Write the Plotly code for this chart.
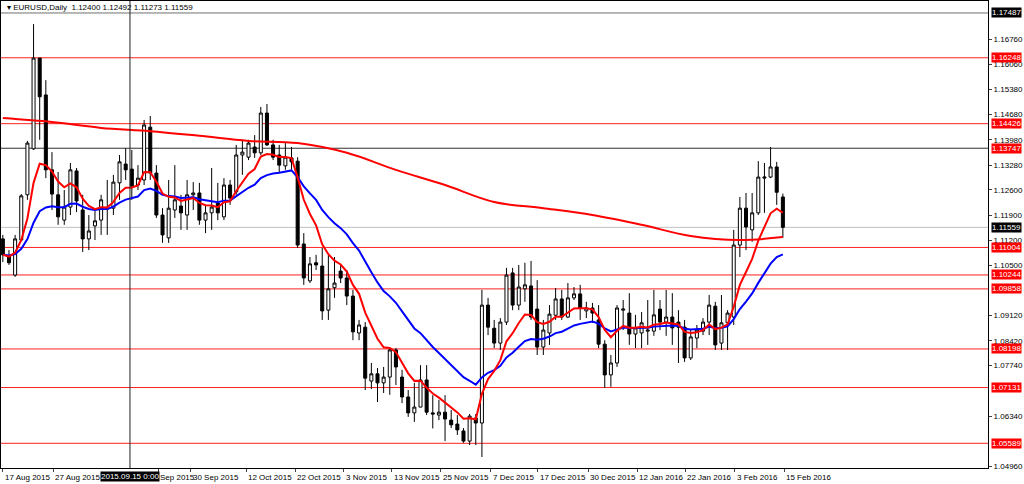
import plotly.graph_objects as go

opens = [1.1124,1.1077,1.1024,1.1121,1.1246,1.1373,1.1624,1.1522,1.1315,1.1246,1.1176,1.1212,1.1312,1.1204,1.1124,1.1160,1.1176,1.1209,1.1209,1.1279,
1.1331,1.1317,1.1273,1.1287,1.1433,1.1306,1.1190,1.1127,1.1204,1.1215,1.1190,1.1246,1.1251,1.1176,1.1196,1.1223,1.1185,1.1273,1.1254,1.1356,
1.1350,1.1378,1.1362,1.1472,1.1384,1.1356,1.1326,1.1348,1.1339,1.1110,1.1008,1.1058,1.1049,1.0927,1.0989,1.1035,1.1016,1.0966,1.0864,1.0880,
1.0731,1.0751,1.0726,1.0742,1.0817,1.0742,1.0687,1.0643,1.0659,1.0734,1.0643,1.0637,1.0645,1.0623,1.0612,1.0593,1.0565,1.0629,1.0615,1.0941,
1.0877,1.0836,1.0894,1.1030,1.0941,1.0986,1.0994,1.0930,1.0825,1.0864,1.0913,1.0958,1.0908,1.0961,1.0972,1.0925,1.0933,1.0900,1.0833,1.0748,
1.0781,1.0927,1.0919,1.0861,1.0864,1.0869,1.0869,1.0930,1.0894,1.0908,1.0894,1.0880,1.0795,1.0850,1.0869,1.0894,1.0938,1.0836,1.0892,1.0908,
1.1107,1.1209,1.1149,1.1196,1.1292,1.1295,1.1323,1.12400]
highs = [1.1135,1.1093,1.1135,1.1248,1.1395,1.1718,1.1624,1.1563,1.1364,1.1309,1.1259,1.1334,1.1320,1.1246,1.1190,1.1204,1.1246,1.1287,1.1301,1.1356,
1.1375,1.1370,1.1328,1.1453,1.1464,1.1328,1.1209,1.1287,1.1328,1.1246,1.1287,1.1281,1.1279,1.1218,1.1320,1.1279,1.1292,1.1287,1.1384,1.1398,
1.1398,1.1411,1.1489,1.1497,1.1398,1.1384,1.1389,1.1378,1.1350,1.1140,1.1074,1.1080,1.1099,1.1080,1.1074,1.1052,1.1038,1.0983,1.0900,1.0894,
1.0781,1.0767,1.0770,1.0822,1.0822,1.0762,1.0706,1.0726,1.0775,1.0775,1.0692,1.0679,1.0692,1.0651,1.0637,1.0601,1.0640,1.0640,1.0983,1.0961,
1.0900,1.0905,1.1044,1.1044,1.1052,1.1058,1.1063,1.1010,1.0900,1.0941,1.0988,1.0983,1.1002,1.0991,1.0997,1.0950,1.0947,1.0941,1.0844,1.0803,
1.0941,1.0955,1.0974,1.0914,1.0922,1.0955,1.0983,1.0955,1.0983,1.0974,1.0927,1.0900,1.0872,1.0886,1.0905,1.0969,1.0950,1.0969,1.0927,1.1149,
1.1240,1.1251,1.1251,1.1339,1.1334,1.1378,1.1337,1.12492]
lows = [1.1060,1.1052,1.1019,1.1118,1.1232,1.1370,1.1398,1.1292,1.1204,1.1163,1.1163,1.1190,1.1198,1.1088,1.1093,1.1121,1.1135,1.1135,1.1190,1.1232,
1.1287,1.1232,1.1259,1.1273,1.1287,1.1182,1.1113,1.1113,1.1182,1.1149,1.1149,1.1204,1.1163,1.1140,1.1149,1.1176,1.1176,1.1218,1.1246,1.1301,
1.1342,1.1348,1.1356,1.1381,1.1342,1.1309,1.1315,1.1315,1.1099,1.0997,1.1002,1.1038,1.0900,1.0900,1.0961,1.1002,1.0941,1.0844,1.0844,1.0706,
1.0709,1.0673,1.0698,1.0693,1.0720,1.0670,1.0632,1.0618,1.0659,1.0637,1.0600,1.0623,1.0565,1.0601,1.0582,1.0560,1.0554,1.0554,1.0521,1.0858,
1.0822,1.0817,1.0886,1.0927,1.0927,1.0950,1.0900,1.0803,1.0803,1.0831,1.0900,1.0900,1.0905,1.0955,1.0900,1.0905,1.0892,1.0822,1.0712,1.0715,
1.0770,1.0872,1.0831,1.0822,1.0822,1.0831,1.0856,1.0872,1.0856,1.0831,1.0781,1.0784,1.0789,1.0822,1.0858,1.0858,1.0817,1.0817,1.0817,1.0886,
1.1074,1.1093,1.1116,1.1190,1.1196,1.1292,1.1218,1.11273]
closes = [1.1080,1.1058,1.1124,1.1243,1.1389,1.1624,1.1517,1.1315,1.1248,1.1185,1.1212,1.1315,1.1229,1.1124,1.1146,1.1174,1.1232,1.1207,1.1281,1.1337,
1.1315,1.1270,1.1292,1.1439,1.1306,1.1190,1.1135,1.1209,1.1232,1.1196,1.1246,1.1251,1.1176,1.1196,1.1212,1.1196,1.1273,1.1237,1.1356,1.1364,
1.1389,1.1362,1.1472,1.1384,1.1350,1.1328,1.1350,1.1337,1.1107,1.1016,1.1055,1.1052,1.0925,1.0986,1.1002,1.1016,1.0966,1.0867,1.0886,1.0739,
1.0751,1.0726,1.0742,1.0817,1.0770,1.0687,1.0643,1.0659,1.0734,1.0645,1.0640,1.0645,1.0626,1.0610,1.0596,1.0565,1.0634,1.0615,1.0941,1.0880,
1.0836,1.0894,1.1024,1.0941,1.0991,1.0997,1.0908,1.0825,1.0872,1.0916,1.0958,1.0908,1.0961,1.0972,1.0933,1.0933,1.0919,1.0833,1.0748,1.0781,
1.0933,1.0930,1.0861,1.0878,1.0892,1.0872,1.0914,1.0894,1.0908,1.0878,1.0880,1.0795,1.0853,1.0872,1.0894,1.0941,1.0831,1.0892,1.0919,1.1107,
1.1209,1.1157,1.1196,1.1295,1.1295,1.1323,1.1253,1.11559]

ma200_bars = [0,8,16,24,32,40,48,56,64,72,80,88,96,104,112,120,127]
ma200_vals = [1.1458,1.1447,1.1431,1.1422,1.1409,1.1395,1.1389,1.1362,1.1315,1.1273,1.1226,1.1209,1.1190,1.1163,1.1132,1.1121,1.1129]

levels = [1.16248,1.14426,1.13747,1.11004,1.10244,1.09858,1.08198,1.07131,1.05589]
crosshair_price = 1.13747
price_ticks = [1.16760,1.16060,1.15380,1.14680,1.13980,1.13280,1.12600,1.11900,1.11200,1.10500,1.09120,1.08420,1.07740,1.06340,1.04960]
date_pos = [0,8.2,25.3,30.6,39.6,47.6,55.5,63.3,71.3,79.4,87.1,95.3,103.3,111.1,119.2,127.2]
date_labels = ["17 Aug 2015","27 Aug 2015","Sep 2015","30 Sep 2015","12 Oct 2015","22 Oct 2015","3 Nov 2015","13 Nov 2015",
               "25 Nov 2015","7 Dec 2015","17 Dec 2015","30 Dec 2015","12 Jan 2016","22 Jan 2016","3 Feb 2016","15 Feb 2016"]
top_price = 1.17487
last_price = 1.11559
cross_bar = 20.7
cross_label = "2015.09.15 0:00"
header = "EURUSD,Daily  1.12400 1.12492 1.11273 1.11559"

def ema(vals, n):
    k = 2/(n+1); out = [vals[0]]
    for v in vals[1:]:
        out.append(out[-1] + k*(v-out[-1]))
    return out

x = list(range(len(closes)))
FONT = "Liberation Sans"
FS = 8
fig = go.Figure()
fig.add_trace(go.Candlestick(x=x, open=opens, high=highs, low=lows, close=closes,
    increasing=dict(line=dict(color="black", width=1), fillcolor="white"),
    decreasing=dict(line=dict(color="black", width=1), fillcolor="black"),
    whiskerwidth=0, showlegend=False, hoverinfo="skip"))
fig.add_trace(go.Scatter(x=x, y=ema(closes, 21), mode="lines", line=dict(color="#0000ff", width=2), hoverinfo="skip"))
fig.add_trace(go.Scatter(x=x, y=ema(closes, 8), mode="lines", line=dict(color="#ff0000", width=2), hoverinfo="skip"))
fig.add_trace(go.Scatter(x=ma200_bars, y=ma200_vals, mode="lines", line=dict(color="#ff0000", width=2, shape="spline"), hoverinfo="skip"))

shapes = []
shapes.append(dict(type="line", xref="paper", x0=0, x1=1, y0=last_price, y1=last_price, line=dict(color="#c0c0c0", width=1), layer="below"))
shapes.append(dict(type="line", xref="paper", x0=0, x1=1, y0=top_price, y1=top_price, line=dict(color="#707070", width=1), layer="below"))
shapes.append(dict(type="line", xref="paper", x0=0, x1=1, y0=crosshair_price, y1=crosshair_price, line=dict(color="#303030", width=1), layer="below"))
for lv in levels:
    if lv != crosshair_price:
        shapes.append(dict(type="line", xref="paper", x0=0, x1=1, y0=lv, y1=lv, line=dict(color="#ff2020", width=1), layer="below"))
shapes.append(dict(type="line", yref="paper", y0=0, y1=1, x0=cross_bar, x1=cross_bar, line=dict(color="#202020", width=1)))

ann = []
def box(y, color):
    return dict(xref="paper", x=1.003, y=y, text=f"{y:.5f}", showarrow=False, xanchor="left", yanchor="middle",
                bgcolor=color, font=dict(color="white", size=FS, family=FONT), borderpad=0)
for lv in levels:
    ann.append(box(lv, "#ff0000"))
ann.append(box(last_price, "black"))
ann.append(box(top_price, "black"))
for p, t in zip(date_pos, date_labels):
    ann.append(dict(x=p, yref="paper", y=-0.006, text=t, showarrow=False, xanchor="left", yanchor="top",
                    font=dict(color="black", size=FS, family=FONT)))
ann.append(dict(x=cross_bar, yref="paper", y=-0.006, text=cross_label, showarrow=False, xanchor="center", yanchor="top",
                bgcolor="black", font=dict(color="white", size=FS, family=FONT), borderpad=0))
ann.append(dict(xref="paper", x=0.004, yref="paper", y=0.999, text="▾ " + header, showarrow=False, xanchor="left", yanchor="top",
                font=dict(color="black", size=FS, family=FONT)))

fig.update_layout(width=1024, height=484, margin=dict(l=1, r=36, t=1, b=16),
    paper_bgcolor="white", plot_bgcolor="white", shapes=shapes, annotations=ann, showlegend=False,
    xaxis=dict(range=[-0.3, 160.4], showgrid=False, zeroline=False, showticklabels=False, rangeslider=dict(visible=False),
               showline=True, linecolor="black", mirror=True, ticks="outside", ticklen=3, tickvals=date_pos, automargin=False),
    yaxis=dict(range=[1.04906, 1.17818], side="right", showgrid=False, zeroline=False, tickvals=price_ticks,
               ticktext=[f"{v:.5f}" for v in price_ticks], ticks="outside", ticklen=3, automargin=False,
               tickfont=dict(size=FS, family=FONT, color="black"), showline=True, linecolor="black", mirror=True))
fig.write_html("out.html", config={"displayModeBar": False},
               post_script="document.body.style.margin='0';document.body.style.overflow='hidden';")
